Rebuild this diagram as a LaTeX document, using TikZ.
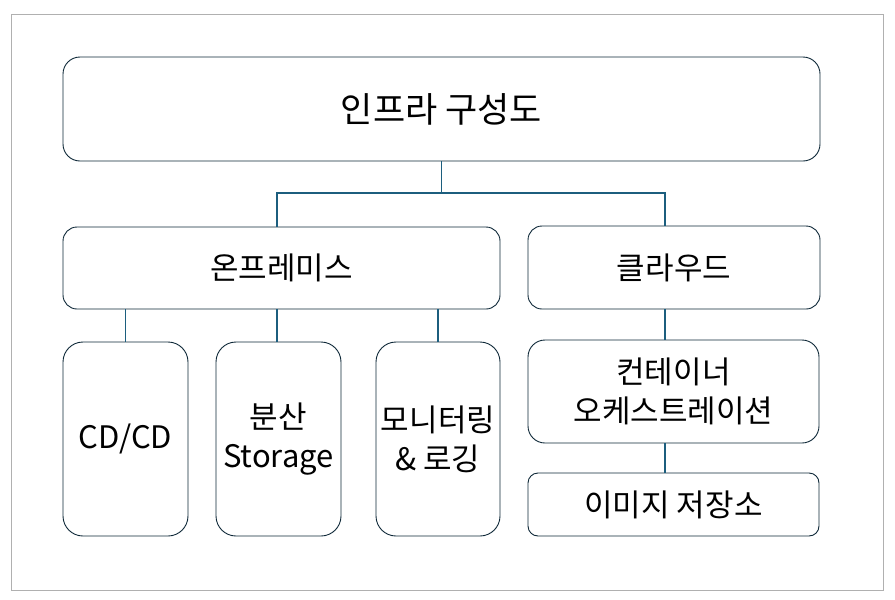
\documentclass[tikz,border=0pt]{standalone}
\usepackage{fontspec}
\newfontfamily\kr{Noto Sans CJK KR}
\definecolor{boxline}{HTML}{0E2838}
\definecolor{linkline}{HTML}{1C5E7E}
\definecolor{frameline}{HTML}{B0B0B0}
\begin{document}
\begin{tikzpicture}[x=1pt,y=-1pt,
  box/.style={draw=boxline,line width=0.9pt,fill=white,align=center,
    inner sep=0pt,font=\kr\fontsize{31}{39}\selectfont},
  link/.style={draw=linkline,line width=1.5pt}]
\useasboundingbox (0,0) rectangle (895,600);
\draw[frameline,line width=1pt] (11.5,14.5) rectangle (883,590);
\node[box,rounded corners=17pt,minimum width=757pt,minimum height=104pt,
  font=\kr\fontsize{35}{42}\selectfont] (title) at (441.5,109) {인프라 구성도};
\node[box,rounded corners=14pt,minimum width=437pt,minimum height=82pt] (onprem) at (281.5,268) {온프레미스};
\node[box,rounded corners=14pt,minimum width=292pt,minimum height=83pt] (cloud) at (674,267.5) {클라우드};
\node[box,rounded corners=20pt,minimum width=125pt,minimum height=194pt] (cicd) at (125.5,439) {CD/CD};
\node[box,rounded corners=20pt,minimum width=125pt,minimum height=194pt] (storage) at (278.5,439) {분산\\Storage};
\node[box,rounded corners=20pt,minimum width=124pt,minimum height=194pt] (monitor) at (438,439) {모니터링\\\& 로깅};
\node[box,rounded corners=17pt,minimum width=291pt,minimum height=103pt] (container) at (673.5,391.5) {컨테이너\\오케스트레이션};
\node[box,rounded corners=10pt,minimum width=291pt,minimum height=63pt] (registry) at (673.5,504.5) {이미지 저장소};
% tree lines
\coordinate (bus) at (441.5,193);
\draw[link] (title.south) -- (bus);
\draw[link] (bus) -| ([xshift=-4.5pt]onprem.north);
\draw[link] (bus) -| ([xshift=-9pt]cloud.north);
\draw[link] (onprem.south -| cicd.north) -- (cicd.north);
\draw[link] ([xshift=-1.5pt]onprem.south -| storage.north) -- ([xshift=-1.5pt]storage.north);
\draw[link] (onprem.south -| monitor.north) -- (monitor.north);
\draw[link] ([xshift=-9pt]cloud.south) -- ([xshift=-8.5pt]container.north);
\draw[link] ([xshift=-8.5pt]container.south) -- ([xshift=-8.5pt]registry.north);
\end{tikzpicture}
\end{document}
